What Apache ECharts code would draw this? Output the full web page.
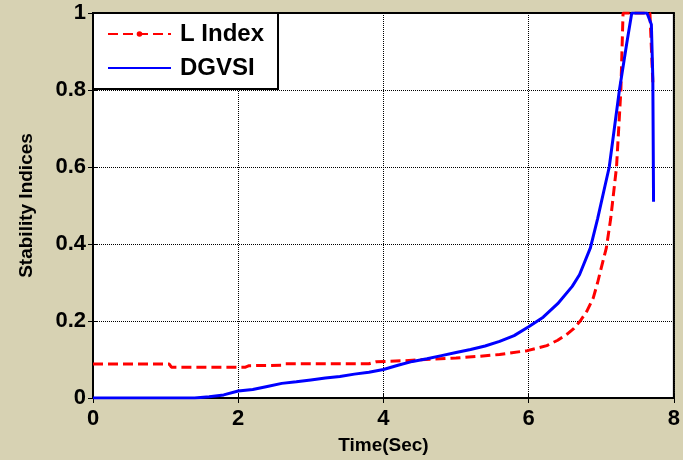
<!DOCTYPE html>
<html>
<head>
<meta charset="utf-8">
<script src="https://cdn.jsdelivr.net/npm/echarts@6/dist/echarts.min.js"></script>
<style>
html, body { margin: 0; padding: 0; background: #d7d2b3; }
#chart { width: 683px; height: 460px; }
</style>
</head>
<body>
<div id="chart"></div>
<script>
// tick values of both axes
var xTicks = [0, 2, 4, 6, 8];
var yTicks = [0, 0.2, 0.4, 0.6, 0.8, 1];

// L Index (red dashed)
var lIndexX = [0, 1.05, 1.08, 2.1, 2.15, 2.6, 2.65, 3.8, 3.9, 4.3, 4.7, 5.0, 5.3, 5.6, 5.98, 6.25, 6.4, 6.53, 6.62, 6.71, 6.8, 6.89, 6.95, 7.0, 7.07, 7.13, 7.21, 7.27, 7.30, 7.67, 7.71];
var lIndexY = [0.088, 0.088, 0.08, 0.08, 0.084, 0.085, 0.089, 0.089, 0.094, 0.097, 0.101, 0.104, 0.108, 0.113, 0.123, 0.136, 0.15, 0.166, 0.18, 0.2, 0.225, 0.26, 0.3, 0.338, 0.39, 0.466, 0.6, 0.8, 1.0, 1.0, 0.82];

// DGVSI (blue solid)
var dgvsiX = [0, 1.4, 1.6, 1.8, 2.0, 2.2, 2.4, 2.6, 2.8, 3.0, 3.2, 3.4, 3.6, 3.8, 4.0, 4.2, 4.4, 4.6, 4.8, 5.0, 5.2, 5.4, 5.6, 5.8, 6.0, 6.2, 6.4, 6.6, 6.7, 6.85, 6.95, 7.05, 7.11, 7.18, 7.25, 7.35, 7.42, 7.63, 7.69, 7.71, 7.72];
var dgvsiY = [0, 0, 0.003, 0.008, 0.018, 0.022, 0.03, 0.038, 0.042, 0.047, 0.052, 0.056, 0.062, 0.067, 0.074, 0.085, 0.095, 0.102, 0.11, 0.118, 0.126, 0.135, 0.147, 0.162, 0.185, 0.21, 0.245, 0.29, 0.32, 0.39, 0.466, 0.55, 0.6, 0.7, 0.8, 0.92, 1.0, 1.0, 0.97, 0.83, 0.51];

function pairs(xs, ys) {
    var out = [];
    for (var i = 0; i < xs.length; i++) {
        out.push([xs[i], ys[i]]);
    }
    return out;
}

var font = "'Liberation Sans', Arial, sans-serif";

var chart = echarts.init(document.getElementById('chart'));
chart.setOption({
    backgroundColor: '#d7d2b3',
    animation: false,
    grid: {
        left: 93, top: 13, right: 9, bottom: 59,
        show: true,
        backgroundColor: '#ffffff',
        borderColor: '#000000',
        borderWidth: 2
    },
    legend: {
        orient: 'vertical',
        left: 93, top: 13,
        backgroundColor: '#ffffff',
        borderColor: '#000000',
        borderWidth: 2,
        borderRadius: 0,
        padding: [9, 14, 9, 14],
        itemWidth: 63,
        itemHeight: 7,
        itemGap: 10,
        textStyle: {
            fontFamily: font, fontWeight: 'bold', fontSize: 24, color: '#000', padding: [0, 0, 0, 4]
        },
        data: [
            { name: 'L Index' },
            { name: 'DGVSI', itemStyle: { opacity: 0 } }
        ]
    },
    xAxis: [{
        type: 'value',
        min: xTicks[0], max: xTicks[xTicks.length - 1], interval: xTicks[1] - xTicks[0],
        name: 'Time(Sec)',
        nameLocation: 'middle',
        nameGap: 38,
        nameTextStyle: { fontFamily: font, fontWeight: 'bold', fontSize: 19, color: '#000' },
        axisLine: { show: true, lineStyle: { color: '#000', width: 2 } },
        axisTick: { show: true, inside: true, length: 5, lineStyle: { color: '#000' } },
        axisLabel: { fontFamily: font, fontWeight: 'bold', fontSize: 22, color: '#000', margin: 10 },
        splitLine: { show: true, lineStyle: { color: '#000', type: 'dotted', width: 1 } }
    }, {
        type: 'value', position: 'top',
        min: xTicks[0], max: xTicks[xTicks.length - 1], interval: xTicks[1] - xTicks[0],
        axisLine: { show: true, lineStyle: { color: '#000', width: 2 } },
        axisTick: { show: true, inside: true, length: 5, lineStyle: { color: '#000' } },
        axisLabel: { show: false },
        splitLine: { show: false }
    }],
    yAxis: [{
        type: 'value',
        min: yTicks[0], max: yTicks[yTicks.length - 1], interval: 0.2,
        name: 'Stability Indices',
        nameLocation: 'middle',
        nameGap: 57,
        nameTextStyle: { fontFamily: font, fontWeight: 'bold', fontSize: 19, color: '#000' },
        axisLine: { show: true, lineStyle: { color: '#000', width: 2 } },
        axisTick: { show: true, inside: true, length: 5, lineStyle: { color: '#000' } },
        axisLabel: { fontFamily: font, fontWeight: 'bold', fontSize: 22, color: '#000', margin: 7 },
        splitLine: { show: true, lineStyle: { color: '#000', type: 'dotted', width: 1 } }
    }, {
        type: 'value', position: 'right',
        min: yTicks[0], max: yTicks[yTicks.length - 1], interval: 0.2,
        axisLine: { show: true, lineStyle: { color: '#000', width: 2 } },
        axisTick: { show: true, inside: true, length: 5, lineStyle: { color: '#000' } },
        axisLabel: { show: false },
        splitLine: { show: false }
    }],
    series: [{
        name: 'L Index',
        type: 'line',
        data: pairs(lIndexX, lIndexY),
        symbol: 'circle',
        symbolSize: 6,
        showSymbol: false,
        itemStyle: { color: '#ff0000' },
        lineStyle: { color: '#ff0000', width: 3, type: [10, 5] }
    }, {
        name: 'DGVSI',
        type: 'line',
        data: pairs(dgvsiX, dgvsiY),
        symbol: 'none',
        itemStyle: { color: '#0000ff' },
        lineStyle: { color: '#0000ff', width: 3 }
    }]
});
</script>
</body>
</html>
